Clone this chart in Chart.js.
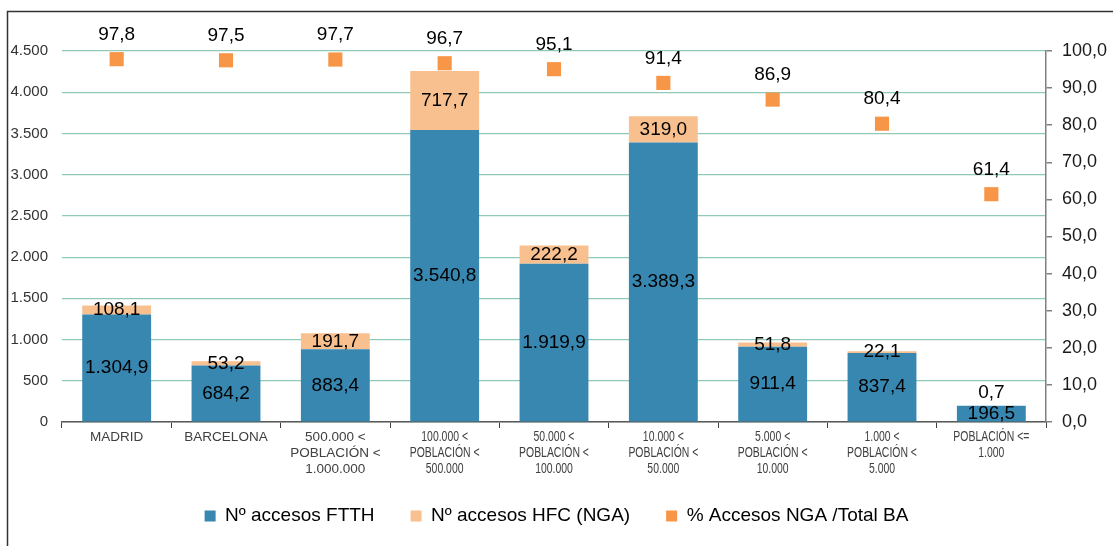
<!DOCTYPE html>
<html lang="es">
<head>
<meta charset="utf-8">
<title>Accesos NGA por tamaño de población</title>
<script src="https://cdn.jsdelivr.net/npm/chart.js@4/dist/chart.umd.min.js"></script>
<style>
  html, body { margin: 0; padding: 0; background: #ffffff; }
  #wrap { width: 1113px; height: 546px; }
</style>
</head>
<body>
<div id="wrap"><canvas id="chart" width="1113" height="546"></canvas></div>
<script>
// Categorías (tamaño de municipio)
const categories = [
  ['MADRID'],
  ['BARCELONA'],
  ['500.000 <', 'POBLACIÓN <', '1.000.000'],
  ['100.000 <', 'POBLACIÓN <', '500.000'],
  ['50.000 <', 'POBLACIÓN <', '100.000'],
  ['10.000 <', 'POBLACIÓN <', '50.000'],
  ['5.000 <', 'POBLACIÓN <', '10.000'],
  ['1.000 <', 'POBLACIÓN <', '5.000'],
  ['POBLACIÓN <=', '1.000']
];

// Accesos en miles
const accesosFTTH = [1304.9, 684.2, 883.4, 3540.8, 1919.9, 3389.3, 911.4, 837.4, 196.5];
const accesosHFC  = [108.1, 53.2, 191.7, 717.7, 222.2, 319.0, 51.8, 22.1, 0.7];
// Porcentaje de accesos NGA sobre el total de banda ancha
const pctNGA      = [97.8, 97.5, 97.7, 96.7, 95.1, 91.4, 86.9, 80.4, 61.4];

// Ejes
const leftMax = 4500, leftStep = 500;
const rightMax = 100, rightStep = 10;

const seriesNames = ['Nº accesos FTTH', 'Nº accesos HFC (NGA)', '% Accesos NGA /Total BA'];

const FONT = "'Liberation Sans', Arial, sans-serif";

// Formato español: separador de miles '.', decimal ','
function fmt(v, decimals) {
  const parts = v.toFixed(decimals).split('.');
  parts[0] = parts[0].replace(/\B(?=(\d{3})+(?!\d))/g, '.');
  return parts.join(',');
}

// Marco del gráfico (bordes superior e izquierdo)
const framePlugin = {
  id: 'frame',
  beforeDraw(chart) {
    const ctx = chart.ctx;
    ctx.save();
    ctx.strokeStyle = '#333333';
    ctx.lineWidth = 1.5;
    ctx.beginPath();
    ctx.moveTo(7.5, chart.height);
    ctx.lineTo(7.5, 11.5);
    ctx.lineTo(chart.width, 11.5);
    ctx.stroke();
    ctx.restore();
  }
};

// Rótulos de categoría: los tres primeros en ancho normal, el resto comprimidos
const categoryLabels = {
  id: 'categoryLabels',
  afterDraw(chart) {
    const scale = chart.scales.x;
    const ctx = chart.ctx;
    ctx.save();
    ctx.fillStyle = '#404040';
    ctx.textAlign = 'center';
    ctx.textBaseline = 'middle';
    categories.forEach((lines, i) => {
      const x = scale.getPixelForTick(i);
      const narrow = i >= 3;
      const sx = narrow ? 0.72 : 1;
      ctx.font = (narrow ? '14.5px ' : '13.5px ') + FONT;
      lines.forEach((line, k) => {
        const y = scale.top + 15 + 16 * k;
        ctx.save();
        ctx.translate(x, y);
        ctx.scale(sx, 1);
        ctx.fillText(line, 0, 0);
        ctx.restore();
      });
    });
    ctx.restore();
  }
};

// Etiquetas de valor sobre barras y marcadores
const valueLabels = {
  id: 'valueLabels',
  afterDatasetsDraw(chart) {
    const ctx = chart.ctx;
    ctx.save();
    ctx.font = '19px ' + FONT;
    ctx.fillStyle = '#000000';
    ctx.textAlign = 'center';
    ctx.textBaseline = 'middle';
    chart.data.datasets.forEach((ds, di) => {
      const meta = chart.getDatasetMeta(di);
      meta.data.forEach((el, i) => {
        const v = ds.data[i];
        if (ds.type === 'line') {
          const p = el.getProps(['x', 'y'], true);
          ctx.fillText(fmt(v, 1), p.x, p.y - 24.5);
        } else {
          const p = el.getProps(['x', 'y', 'base'], true);
          const h = Math.abs(p.base - p.y);
          let y = (p.y + p.base) / 2;
          if (h < 1) y = p.y - 13;
          ctx.fillText(fmt(v, 1), p.x, y);
        }
      });
    });
    ctx.restore();
  }
};

new Chart(document.getElementById('chart'), {
  data: {
    labels: categories,
    datasets: [
      {
        type: 'bar',
        label: seriesNames[0],
        data: accesosFTTH,
        backgroundColor: '#3787b0',
        yAxisID: 'y',
        stack: 'accesos',
        barPercentage: 0.63,
        categoryPercentage: 1.0,
        order: 1
      },
      {
        type: 'bar',
        label: seriesNames[1],
        data: accesosHFC,
        backgroundColor: '#f9c08f',
        yAxisID: 'y',
        stack: 'accesos',
        barPercentage: 0.63,
        categoryPercentage: 1.0,
        order: 1
      },
      {
        type: 'line',
        label: seriesNames[2],
        data: pctNGA,
        yAxisID: 'y1',
        showLine: false,
        pointStyle: 'rect',
        pointRadius: 10,
        pointHoverRadius: 10,
        pointBackgroundColor: '#f79646',
        pointBorderColor: '#f79646',
        pointBorderWidth: 0,
        backgroundColor: '#f79646',
        borderColor: '#f79646',
        order: 0
      }
    ]
  },
  options: {
    responsive: false,
    animation: false,
    events: [],
    layout: { padding: { left: 0, right: 0, top: 51, bottom: 10.5 } },
    plugins: {
      tooltip: { enabled: false },
      legend: {
        position: 'bottom',
        labels: {
          boxWidth: 11,
          boxHeight: 11,
          padding: 36,
          color: '#1a1a1a',
          font: { family: FONT, size: 19 },
          sort: (a, b) => a.datasetIndex - b.datasetIndex,
          generateLabels(chart) {
            return chart.data.datasets.map((ds, i) => ({
              text: ds.label,
              fillStyle: ds.backgroundColor,
              strokeStyle: ds.backgroundColor,
              lineWidth: 0,
              hidden: false,
              datasetIndex: i
            }));
          }
        }
      }
    },
    scales: {
      x: {
        stacked: true,
        offset: true,
        grid: {
          offset: true,
          drawOnChartArea: false,
          drawTicks: true,
          tickLength: 6,
          color: '#404040',
          lineWidth: 1
        },
        border: { display: true, color: '#595959', width: 1.5 },
        ticks: { display: false },
        afterFit(scale) { scale.height = 48.5; }
      },
      y: {
        position: 'left',
        stacked: true,
        min: 0,
        max: leftMax,
        grid: {
          color: '#8fc9b8',
          lineWidth: 1.2,
          drawTicks: false
        },
        border: { display: false },
        ticks: {
          stepSize: leftStep,
          padding: 14,
          color: '#333333',
          font: { family: FONT, size: 15 },
          callback: (v) => fmt(v, 0)
        },
        afterFit(scale) { scale.width = 62; }
      },
      y1: {
        position: 'right',
        min: 0,
        max: rightMax,
        grid: {
          drawOnChartArea: false,
          drawTicks: true,
          tickLength: 6,
          color: '#808080',
          lineWidth: 1.5
        },
        border: { display: true, color: '#808080', width: 1.5 },
        ticks: {
          stepSize: rightStep,
          padding: 10,
          color: '#1a1a1a',
          font: { family: FONT, size: 18 },
          callback: (v) => fmt(v, 1)
        },
        afterFit(scale) { scale.width = 67; }
      }
    }
  },
  plugins: [framePlugin, valueLabels, categoryLabels]
});
</script>
</body>
</html>
